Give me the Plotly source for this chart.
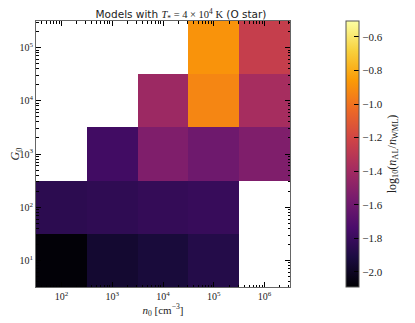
import plotly.graph_objs as go
import numpy as np

# bin edges of the model grid (log10 values)
n0_edges_log = [1.5, 2.5, 3.5, 4.5, 5.5, 6.5]
G0_edges_log = [0.5, 1.5, 2.5, 3.5, 4.5, 5.5]

# log10(n_AL / n_WML); rows are G0 = 1e1 .. 1e5, cols n0 = 1e2 .. 1e6
ratio_log = [
    [-2.08, -1.96, -1.93, -1.88, None],
    [-1.85, -1.84, -1.82, -1.81, None],
    [None, -1.77, -1.535, -1.60, -1.535],
    [None, None, -1.42, -0.93, -1.38],
    [None, None, None, -0.885, -1.25],
]

zmin, zmax = -2.09, -0.505
cb_ticks = [-2.0, -1.8, -1.6, -1.4, -1.2, -1.0, -0.8, -0.6]
x_decades = [2, 3, 4, 5, 6]
y_decades = [1, 2, 3, 4, 5]

serif = "Liberation Serif"
sans = "DejaVu Sans"

x_edges = [10 ** e for e in n0_edges_log]
y_edges = [10 ** e for e in G0_edges_log]

# page body has an 8px margin, so the figure is shifted by that much
OFF = 8


def minor_vals(lo, hi):
    vals = []
    for d in range(int(np.floor(lo)), int(np.ceil(hi)) + 1):
        for k in range(2, 10):
            v = k * 10 ** d
            if 10 ** lo < v < 10 ** hi:
                vals.append(v)
    return vals


fig = go.Figure()
fig.add_trace(go.Heatmap(
    x=x_edges, y=y_edges, z=ratio_log,
    colorscale="Inferno", zmin=zmin, zmax=zmax,
    hoverongaps=False,
    colorbar=dict(
        x=1.222, xanchor="left", xref="paper", xpad=0, ypad=0,
        y=0.5, yanchor="middle", len=1, lenmode="fraction",
        thickness=13, outlinewidth=1, outlinecolor="#555",
        ticks="inside", ticklen=5, tickcolor="black", tickwidth=1.2,
        tickvals=cb_ticks,
        ticktext=["\u2212%.1f" % abs(t) for t in cb_ticks],
        tickfont=dict(family=serif, size=11, color="#222"),
        title=dict(
            text="log<sub>10</sub>(<i>n</i><sub>AL</sub>/<i>n</i><sub>WML</sub>)",
            side="right", font=dict(family=serif, size=12, color="#222")),
    ),
))

axis_common = dict(
    type="log", automargin=False,
    showgrid=False, zeroline=False,
    showline=True, linecolor="#666", linewidth=1, mirror="ticks",
    ticks="inside", ticklen=5, tickcolor="black", tickwidth=1.2,
    tickfont=dict(family=serif, size=10, color="#222"),
)

fig.update_layout(
    width=415, height=323,
    margin=dict(l=36 - OFF, r=415 - 290 + OFF, t=21 - OFF, b=323 - 287 + OFF,
                autoexpand=False),
    paper_bgcolor="white", plot_bgcolor="white",
    title=dict(
        text="Models with <span style='font-family:%s'><i>T</i><sub>*</sub> = 4 \u00d7 10<sup>4</sup> K</span> (O star)" % serif,
        x=(181 - OFF) / 415, xanchor="center",
        y=1 - 3 / 323, yanchor="top",
        font=dict(family=sans, size=10.5, color="#222")),
    xaxis=dict(axis_common, range=[n0_edges_log[0], n0_edges_log[-1]],
               tickvals=[10 ** d for d in x_decades],
               ticktext=["10<sup>%d</sup>" % d for d in x_decades],
               minor=dict(tickvals=minor_vals(n0_edges_log[0], n0_edges_log[-1]),
                          ticks="inside", ticklen=2.5, tickcolor="black", showgrid=False),
               title=dict(text="<i>n</i><sub>0</sub> [cm<sup>\u22123</sup>]",
                          font=dict(family=serif, size=11, color="#222"), standoff=0)),
    yaxis=dict(axis_common, range=[G0_edges_log[0], G0_edges_log[-1]],
               tickvals=[10 ** d for d in y_decades],
               ticktext=["10<sup>%d</sup>" % d for d in y_decades],
               minor=dict(tickvals=minor_vals(G0_edges_log[0], G0_edges_log[-1]),
                          ticks="inside", ticklen=2.5, tickcolor="black", showgrid=False),
               title=dict(text="<i>G</i><sub>0</sub>",
                          font=dict(family=serif, size=12, color="#222"), standoff=0)),
)

fig.write_html("out.html")
